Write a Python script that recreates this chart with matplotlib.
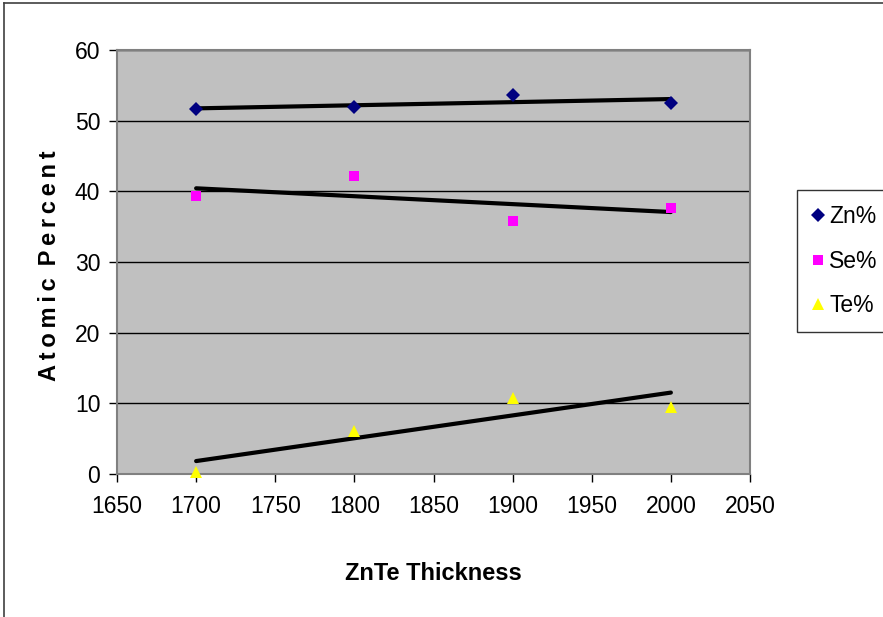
import numpy as np
import matplotlib
matplotlib.use("Agg")
import matplotlib.pyplot as plt
from matplotlib.lines import Line2D

plt.rcParams['font.family'] = ['Liberation Sans', 'DejaVu Sans']

# ZnTe thickness vs. atomic composition
thickness = [1700, 1800, 1900, 2000]
zn_pct = [51.6, 51.9, 53.6, 52.5]
se_pct = [39.3, 42.2, 35.8, 37.7]
te_pct = [0.3, 6.1, 10.8, 9.5]

x_ticks = [1650, 1700, 1750, 1800, 1850, 1900, 1950, 2000, 2050]
y_ticks = [0, 10, 20, 30, 40, 50, 60]

W, H = 883, 617
fig = plt.figure(figsize=(W / 100, H / 100), dpi=100)
fig.patch.set_facecolor('white')

ax = fig.add_axes([117 / W, 1 - 474 / H, (750 - 117) / W, (474 - 50) / H])
ax.set_facecolor('#C0C0C0')
for s in ax.spines.values():
    s.set_color('#808080')
    s.set_linewidth(1.5)

ax.set_xlim(1650, 2050)
ax.set_ylim(0, 60)
ax.set_xticks(x_ticks)
ax.set_yticks(y_ticks)
ax.tick_params(direction='out', length=6, width=1, color='black',
               labelsize=16.5, pad=6)
ax.tick_params(axis='x', pad=9)
ax.yaxis.grid(True, color='black', linewidth=1.0)
ax.set_axisbelow(True)

series = [
    (zn_pct, 'Zn%', 'D', '#000080', 7.5),
    (se_pct, 'Se%', 's', '#FF00FF', 7.5),
    (te_pct, 'Te%', '^', '#FFFF00', 9),
]
xs = np.array(thickness, dtype=float)
handles = []
for vals, name, mk, col, ms in series:
    h, = ax.plot(thickness, vals, linestyle='none', marker=mk, color=col,
                 markersize=ms, markeredgewidth=0, label=name, zorder=4,
                 clip_on=False)
    handles.append(h)
    # linear trendline
    k, b = np.polyfit(xs, np.array(vals), 1)
    ax.plot(xs, k * xs + b, color='black', linewidth=3.0, zorder=3,
            solid_capstyle='round')

ax.set_xlabel('ZnTe Thickness', fontsize=17, fontweight='bold', labelpad=32)

# letter-spaced y-axis title
ylab = '\u2009'.join('Atomic') + '\u2002' + '\u2009'.join('Percent')
fig.text(50 / W, 1 - 266 / H, ylab, rotation=90, fontsize=17,
         fontweight='bold', ha='center', va='center')

leg = fig.legend(handles=handles, loc='upper left',
                 bbox_to_anchor=(797 / W, 1 - 190 / H), borderaxespad=0,
                 frameon=True, fancybox=False, fontsize=16.5,
                 labelspacing=0.95, handletextpad=0.25, handlelength=0.5,
                 borderpad=0.65)
leg.get_frame().set_edgecolor('black')
leg.get_frame().set_linewidth(1.0)

# outer chart frame
fig.add_artist(Line2D([4 / W, 1], [1 - 3 / H, 1 - 3 / H], color='#404040',
                      linewidth=1.2, transform=fig.transFigure))
fig.add_artist(Line2D([4 / W, 4 / W], [0, 1 - 3 / H], color='#404040',
                      linewidth=1.2, transform=fig.transFigure))

fig.savefig('out.png', dpi=100)
